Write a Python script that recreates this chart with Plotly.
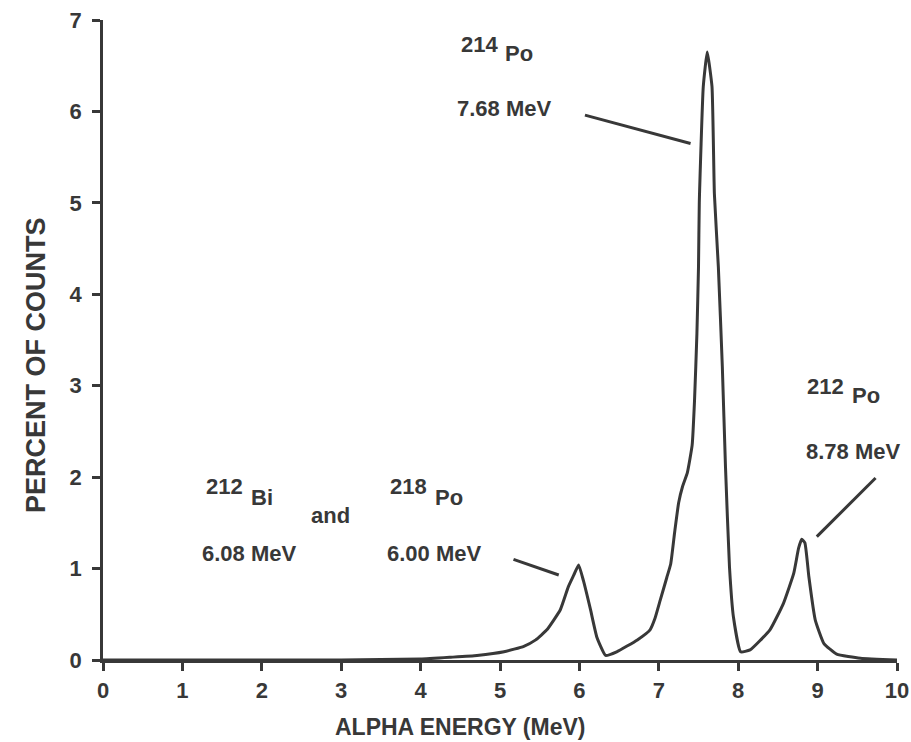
import plotly.graph_objects as go

# Spectrum
energy_mev = [0, 1, 2, 3, 3.5, 4.0, 4.38, 4.71, 5.05, 5.30, 5.45, 5.59, 5.76, 5.86, 5.93, 5.99,
              6.05, 6.14, 6.22, 6.33, 6.47, 6.73, 6.89, 6.95, 7.02, 7.10, 7.15, 7.20, 7.25, 7.30,
              7.36, 7.42, 7.45, 7.48, 7.50, 7.51, 7.56, 7.61, 7.67, 7.70, 7.75, 7.80, 7.84, 7.89,
              7.94, 8.03, 8.15, 8.40, 8.57, 8.70, 8.76, 8.80, 8.84, 8.89, 8.97, 9.08, 9.24, 9.54, 10.0]
percent_counts = [0, 0, 0, 0, 0.005, 0.01, 0.03, 0.05, 0.09, 0.15, 0.22, 0.33, 0.55, 0.80, 0.93, 1.04,
                  0.87, 0.55, 0.25, 0.05, 0.09, 0.22, 0.33, 0.45, 0.66, 0.90, 1.05, 1.40, 1.72, 1.90,
                  2.05, 2.35, 2.84, 3.57, 4.30, 5.0, 6.27, 6.65, 6.27, 5.10, 4.30, 3.21, 2.11, 1.02,
                  0.47, 0.09, 0.11, 0.33, 0.62, 0.95, 1.22, 1.32, 1.28, 0.91, 0.44, 0.18, 0.065, 0.02, 0.0]

x_ticks = [0, 1, 2, 3, 4, 5, 6, 7, 8, 9, 10]
y_ticks = [0, 1, 2, 3, 4, 5, 6, 7]

INK = "#383838"
FONT = "Liberation Sans, Arial, sans-serif"

fig = go.Figure()
fig.add_trace(go.Scatter(x=energy_mev, y=percent_counts, mode="lines",
                         line=dict(color=INK, width=3, shape="spline", smoothing=0.4),
                         hoverinfo="skip", showlegend=False))

# Label texts: (text, x, y)
labels = [
    ("214", 4.74, 6.73), ("Po", 5.24, 6.63), ("7.68 MeV", 5.05, 6.03),
    ("212", 1.53, 1.90), ("Bi", 2.00, 1.78), ("and", 2.86, 1.58),
    ("218", 3.85, 1.90), ("Po", 4.36, 1.78),
    ("6.08 MeV", 1.84, 1.17), ("6.00 MeV", 4.17, 1.17),
    ("212", 9.10, 2.99), ("Po", 9.61, 2.89), ("8.78 MeV", 9.44, 2.28),
]
for t, x, y in labels:
    fig.add_annotation(x=x, y=y, text=t, showarrow=False, xanchor="center", yanchor="middle",
                       font=dict(family=FONT, size=22, color=INK, weight="bold"))

# Axis titles (placed off-centre as in the original)
fig.add_annotation(xref="paper", yref="paper", x=0.4496, y=-0.105, text="ALPHA ENERGY (MeV)",
                   showarrow=False, xanchor="center", yanchor="middle",
                   font=dict(family=FONT, size=23, color=INK, weight="bold"))
fig.add_annotation(xref="paper", yref="paper", x=-0.0844, y=0.461, text="PERCENT OF COUNTS",
                   showarrow=False, xanchor="center", yanchor="middle", textangle=-90,
                   font=dict(family=FONT, size=27, color=INK, weight="bold"))

# Pointer lines
pointers = [((6.07, 5.96), (7.40, 5.65)), ((5.17, 1.10), (5.74, 0.93)), ((9.73, 1.99), (8.99, 1.35))]
for (x0, y0), (x1, y1) in pointers:
    fig.add_shape(type="line", x0=x0, y0=y0, x1=x1, y1=y1, line=dict(color=INK, width=3))

axis_common = dict(showgrid=False, zeroline=False, showline=True, linecolor=INK, linewidth=2.5,
                   ticks="outside", ticklen=8, tickwidth=2.5, tickcolor=INK, automargin=False,
                   tickfont=dict(family=FONT, size=22, color=INK, weight="bold"))

fig.update_layout(
    width=911, height=742, paper_bgcolor="white", plot_bgcolor="white",
    margin=dict(l=103, r=14, t=20, b=82),
    xaxis=dict(range=[0, 10], tickvals=x_ticks, ticklabelstandoff=1, **axis_common),
    yaxis=dict(range=[0, 7], tickvals=y_ticks, ticklabelstandoff=6, **axis_common),
)

fig.write_html("out.html")
